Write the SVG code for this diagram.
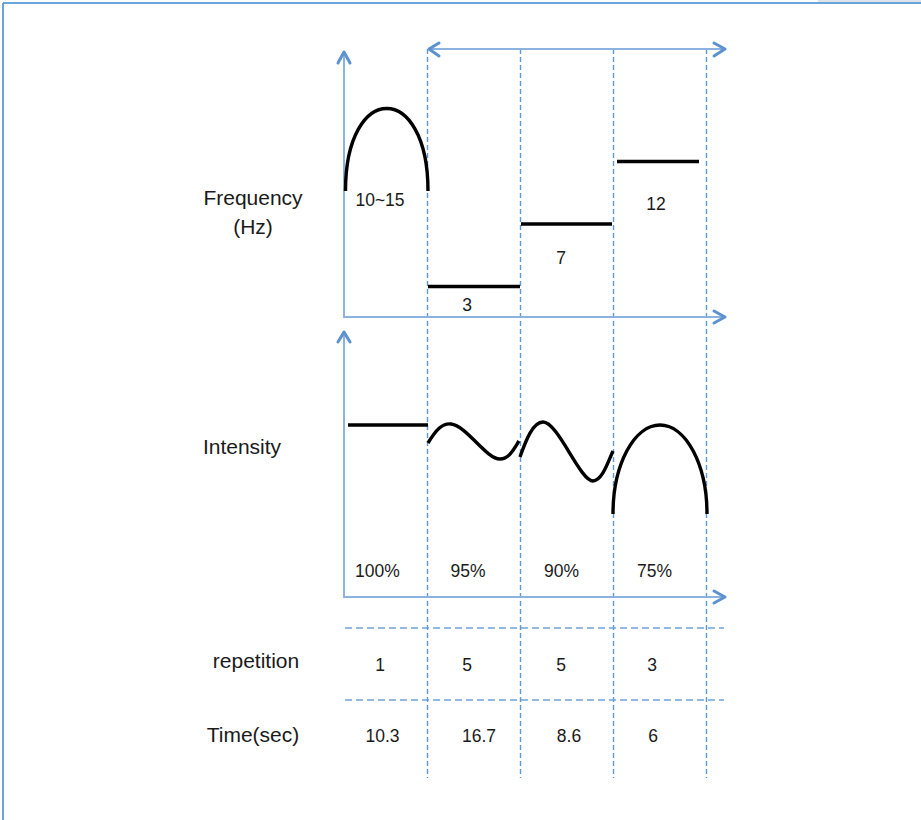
<svg xmlns="http://www.w3.org/2000/svg" width="921" height="820" viewBox="0 0 921 820">
<style>
.lbl{font-family:"Liberation Sans",Arial,sans-serif;font-size:21px;fill:#1a1a1a;text-anchor:middle}
.num{font-family:"Liberation Sans",Arial,sans-serif;font-size:17.5px;fill:#1a1a1a;text-anchor:middle}
.axis{stroke:#8cb3df;stroke-width:2;fill:none}
.head{stroke:#5b92cf;stroke-width:3;fill:none;stroke-linecap:round;stroke-linejoin:round}
.vd{stroke:#5b9bd5;stroke-width:1.4;stroke-dasharray:5 3;fill:none}
.hd{stroke:#6fa3da;stroke-width:1.4;stroke-dasharray:7 4;fill:none}
.curve{stroke:#000;stroke-width:3.4;fill:none}
</style>
<rect x="0" y="0" width="921" height="820" fill="#fff"/>
<rect x="818" y="0" width="103" height="2" fill="#dde3ea"/>
<line x1="3" y1="3" x2="921" y2="3" stroke="#6aa4d8" stroke-width="2"/>
<line x1="3" y1="3" x2="3" y2="820" stroke="#6aa4d8" stroke-width="2"/>

<g id="connectors">
  <line class="vd" x1="427.5" y1="49" x2="427.5" y2="778"/>
  <line class="vd" x1="520.5" y1="49" x2="520.5" y2="778"/>
  <line class="vd" x1="613.5" y1="49" x2="613.5" y2="778"/>
  <line class="vd" x1="706.5" y1="49" x2="706.5" y2="778"/>
  <line class="hd" x1="345" y1="628" x2="724" y2="628"/>
  <line class="hd" x1="345" y1="700" x2="724" y2="700"/>
  <line class="axis" x1="428" y1="49" x2="725" y2="49"/>
  <polyline class="head" points="439,43 429,49 439,56"/>
  <polyline class="head" points="714,43 725,49 714,56"/>
  <polyline class="axis" points="344,53 344,317 724,317"/>
  <polyline class="head" points="338,63 344,52 350,63"/>
  <polyline class="head" points="714,311 725,317 714,323"/>
  <polyline class="axis" points="344,333 344,597 724,597"/>
  <polyline class="head" points="338,342 344,332 350,342"/>
  <polyline class="head" points="714,591 725,597 714,603"/>
</g>

<g id="freq-curves">
  <path class="curve" d="M345.5,191 C345.5,81 428,81 428,191"/>
  <line class="curve" x1="428" y1="286.5" x2="520" y2="286.5"/>
  <line class="curve" x1="521" y1="224" x2="612" y2="224"/>
  <line class="curve" x1="617" y1="161.5" x2="699" y2="161.5"/>
</g>

<g id="intensity-curves">
  <line class="curve" x1="348" y1="425" x2="428" y2="425"/>
  <path class="curve" d="M428,443 C436,430 442,423 451,424 C467,426 486,459 500,459 C509,459 514,449 519,441"/>
  <path class="curve" d="M520,457 C526,440 533,422 543,422 C558,422 580,481 593,481 C602,481 608,462 613,451"/>
  <path class="curve" d="M613,514 A47,89 0 0 1 707,514"/>
</g>

<g id="row-labels">
  <text class="lbl" x="253" y="205">Frequency</text>
  <text class="lbl" x="253" y="234">(Hz)</text>
  <text class="lbl" x="242" y="454">Intensity</text>
  <text class="lbl" x="256" y="668">repetition</text>
  <text class="lbl" x="253" y="742">Time(sec)</text>
</g>

<g id="freq-values">
  <text class="num" x="380" y="206">10~15</text>
  <text class="num" x="467" y="311">3</text>
  <text class="num" x="561" y="264">7</text>
  <text class="num" x="656" y="210">12</text>
</g>

<g id="intensity-values">
  <text class="num" x="377.5" y="577">100%</text>
  <text class="num" x="468" y="577">95%</text>
  <text class="num" x="561.5" y="577">90%</text>
  <text class="num" x="654.5" y="577">75%</text>
</g>

<g id="repetition-values">
  <text class="num" x="380" y="671">1</text>
  <text class="num" x="467" y="671">5</text>
  <text class="num" x="561" y="671">5</text>
  <text class="num" x="652" y="671">3</text>
</g>

<g id="time-values">
  <text class="num" x="382.5" y="742">10.3</text>
  <text class="num" x="479" y="742">16.7</text>
  <text class="num" x="569" y="742">8.6</text>
  <text class="num" x="653" y="742">6</text>
</g>
</svg>
